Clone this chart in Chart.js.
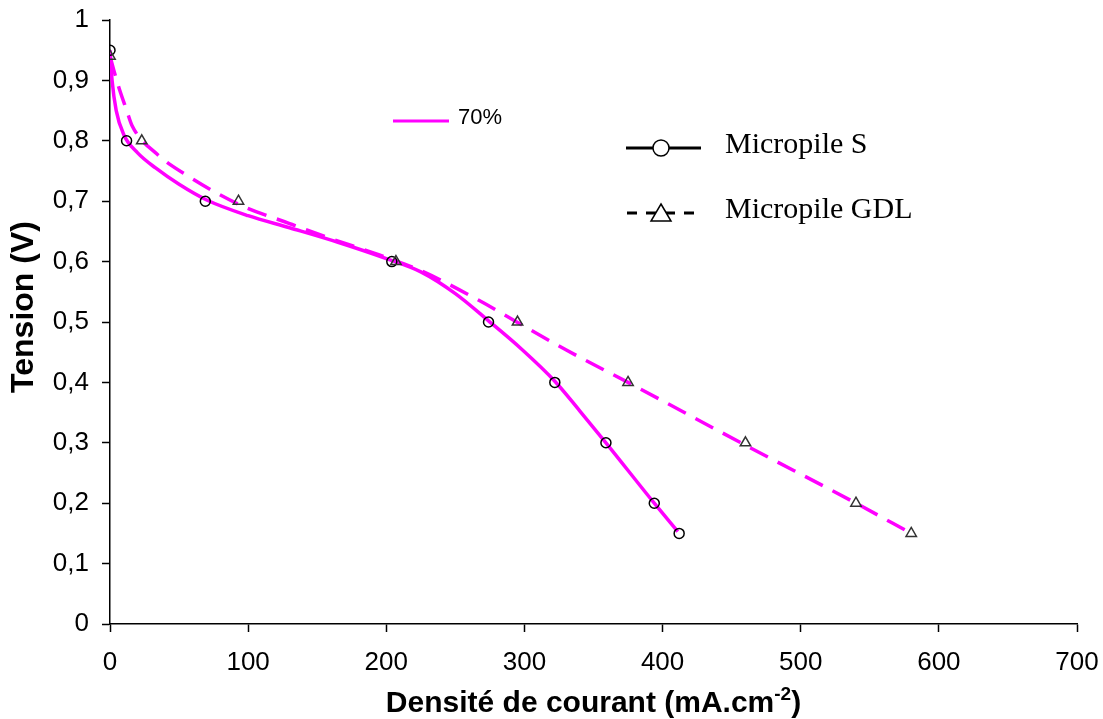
<!DOCTYPE html>
<html>
<head>
<meta charset="utf-8">
<script src="https://cdn.jsdelivr.net/npm/chart.js@4/dist/chart.umd.min.js"></script>
<style>
  html, body { margin: 0; padding: 0; background: #fff; }
  canvas { display: block; }
</style>
</head>
<body>
<canvas id="polar" width="1103" height="719"></canvas>
<script>
// measured points (current density in mA.cm-2, voltage in V)
const sCurrent = [0, 12, 69, 204, 274, 322, 359, 394, 412];
const sVoltage = [0.95, 0.8, 0.7, 0.6, 0.5, 0.4, 0.3, 0.2, 0.15];
const gdlCurrent = [0, 23, 93, 207, 295, 375, 460, 540, 580];
const gdlVoltage = [0.94, 0.8, 0.7, 0.6, 0.5, 0.4, 0.3, 0.2, 0.15];

// fitted curves (magenta)
const sFitX = [0, 1.5, 4.5, 10, 20, 33, 50, 70, 100, 130, 165, 200, 225, 250, 274, 298, 322, 340, 359, 394, 411];
const sFitY = [0.95, 0.9, 0.85, 0.81, 0.78, 0.755, 0.728, 0.702, 0.676, 0.656, 0.632, 0.605, 0.583, 0.547, 0.502, 0.455, 0.402, 0.353, 0.3, 0.2, 0.153];
const gdlFitX = [0, 3, 7, 12, 16, 34, 57, 94, 130, 160, 195, 224, 267, 296, 330, 375, 460, 540, 580];
const gdlFitY = [0.94, 0.915, 0.884, 0.851, 0.825, 0.778, 0.741, 0.694, 0.663, 0.638, 0.611, 0.586, 0.536, 0.498, 0.454, 0.4, 0.296, 0.2, 0.15];

const yTickLabels = ["0", "0,1", "0,2", "0,3", "0,4", "0,5", "0,6", "0,7", "0,8", "0,9", "1"];
const xTitle = ["Densité de courant (mA.cm", "-2", ")"];
const yTitle = "Tension (V)";
const fitLabel = "70%";
const seriesLabels = ["Micropile S", "Micropile GDL"];

const pts = (xs, ys) => xs.map((x, i) => ({ x: x, y: ys[i] }));
const MAGENTA = "#ff00ff";
const SANS = "'Liberation Sans', Arial, sans-serif";

// keep the plot box where the picture has it
const noPad = s => {
  s.paddingLeft = 0;
  s.paddingRight = 0;
  s.paddingTop = 0;
  s.paddingBottom = 0;
};

// titles + the two legend blocks
const decor = {
  id: "decor",
  afterDraw(chart) {
    const ctx = chart.ctx;
    const area = chart.chartArea;
    ctx.save();

    // x title with superscript
    const big = "bold 30px " + SANS;
    const small = "bold 19px " + SANS;
    ctx.fillStyle = "#000";
    ctx.textBaseline = "alphabetic";
    ctx.textAlign = "left";
    ctx.font = big;
    const w0 = ctx.measureText(xTitle[0]).width;
    const w2 = ctx.measureText(xTitle[2]).width;
    ctx.font = small;
    const w1 = ctx.measureText(xTitle[1]).width;
    let x = (area.left + area.right) / 2 - (w0 + w1 + w2) / 2;
    const base = 712;
    ctx.font = big;
    ctx.fillText(xTitle[0], x, base);
    x += w0;
    ctx.font = small;
    ctx.fillText(xTitle[1], x, base - 12);
    x += w1;
    ctx.font = big;
    ctx.fillText(xTitle[2], x, base);

    // y title
    ctx.save();
    ctx.translate(33, 307);
    ctx.rotate(-Math.PI / 2);
    ctx.textAlign = "center";
    ctx.font = "bold 32px " + SANS;
    ctx.fillText(yTitle, 0, 0);
    ctx.restore();

    // "70%" legend
    ctx.strokeStyle = MAGENTA;
    ctx.lineWidth = 3;
    ctx.beginPath();
    ctx.moveTo(393, 121);
    ctx.lineTo(449, 121);
    ctx.stroke();
    ctx.font = "22px " + SANS;
    ctx.textBaseline = "middle";
    ctx.fillText(fitLabel, 458, 117.5);

    // series legend
    ctx.strokeStyle = "#000";
    ctx.lineWidth = 3;
    ctx.beginPath();
    ctx.moveTo(626, 148);
    ctx.lineTo(701, 148);
    ctx.stroke();
    ctx.lineWidth = 1.5;
    ctx.fillStyle = "#fff";
    ctx.beginPath();
    ctx.arc(661, 148, 8, 0, Math.PI * 2);
    ctx.fill();
    ctx.stroke();

    ctx.lineWidth = 3;
    ctx.setLineDash([10, 9]);
    ctx.beginPath();
    ctx.moveTo(627, 213);
    ctx.lineTo(701, 213);
    ctx.stroke();
    ctx.setLineDash([]);
    ctx.lineWidth = 1.5;
    ctx.beginPath();
    ctx.moveTo(661, 204);
    ctx.lineTo(671, 221);
    ctx.lineTo(651, 221);
    ctx.closePath();
    ctx.fill();
    ctx.stroke();

    ctx.fillStyle = "#000";
    ctx.font = "30px 'Liberation Serif', 'Times New Roman', serif";
    ctx.textBaseline = "alphabetic";
    ctx.fillText(seriesLabels[0], 725, 153);
    ctx.fillText(seriesLabels[1], 725, 218);
    ctx.restore();
  }
};

new Chart(document.getElementById("polar"), {
  type: "scatter",
  data: {
    datasets: [
      {
        label: "fit S",
        data: pts(sFitX, sFitY),
        showLine: true,
        borderColor: MAGENTA,
        borderWidth: 3.5,
        pointRadius: 0,
        cubicInterpolationMode: "monotone",
        order: 3
      },
      {
        label: "fit GDL",
        data: pts(gdlFitX, gdlFitY),
        showLine: true,
        borderColor: MAGENTA,
        borderWidth: 3.5,
        borderDash: [20, 11],
        pointRadius: 0,
        cubicInterpolationMode: "monotone",
        order: 2
      },
      {
        label: seriesLabels[0],
        data: pts(sCurrent, sVoltage),
        showLine: false,
        pointStyle: "circle",
        pointRadius: 5,
        pointBorderWidth: 1.5,
        pointBorderColor: "#000",
        pointBackgroundColor: "rgba(0,0,0,0)",
        order: 1
      },
      {
        label: seriesLabels[1],
        data: pts(gdlCurrent, gdlVoltage),
        showLine: false,
        pointStyle: "triangle",
        pointRadius: 6,
        pointBorderWidth: 1.5,
        pointBorderColor: "#333",
        pointBackgroundColor: "rgba(0,0,0,0)",
        order: 0
      }
    ]
  },
  options: {
    responsive: false,
    animation: false,
    layout: { padding: { top: 20, right: 26, left: 0, bottom: 0 } },
    plugins: {
      legend: { display: false },
      tooltip: { enabled: false }
    },
    scales: {
      x: {
        type: "linear",
        min: 0,
        max: 700,
        afterFit: s => { s.height = 95; noPad(s); },
        border: { color: "#000", width: 1.5 },
        grid: { drawOnChartArea: false, tickLength: 8, color: "#000", tickWidth: 1.5 },
        ticks: {
          stepSize: 100,
          padding: 15,
          color: "#000",
          font: { family: SANS, size: 26 }
        }
      },
      y: {
        min: 0,
        max: 1,
        afterFit: s => { s.width = 110; noPad(s); },
        border: { color: "#000", width: 1.5 },
        grid: { drawOnChartArea: false, tickLength: 8, color: "#000", tickWidth: 1.5 },
        ticks: {
          stepSize: 0.1,
          padding: 13,
          color: "#000",
          font: { family: SANS, size: 26 },
          callback: (v, i) => yTickLabels[i]
        }
      }
    }
  },
  plugins: [decor]
});
</script>
</body>
</html>
